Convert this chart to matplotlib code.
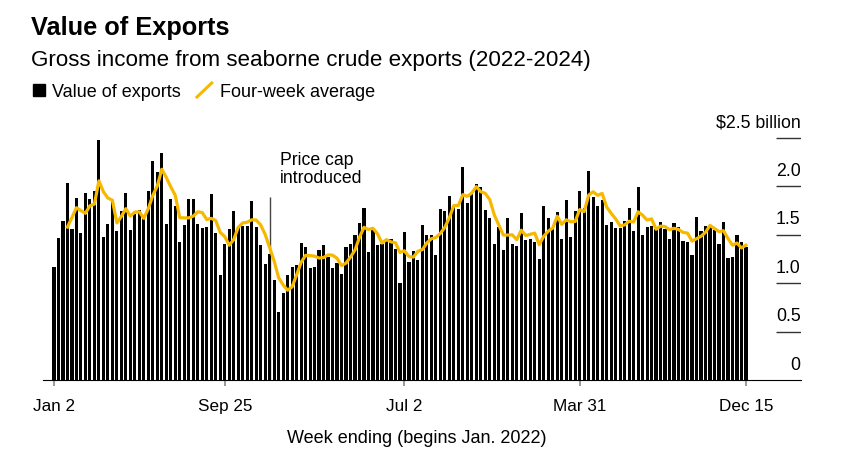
import matplotlib.pyplot as plt
import matplotlib.transforms as mtransforms
from matplotlib.patches import Rectangle
from matplotlib.lines import Line2D
import pandas as pd

plt.rcParams['font.family'] = ['Liberation Sans', 'DejaVu Sans']

# weekly gross income from seaborne crude exports, $ billion (weeks ending Sunday, from Jan 2 2022)
exports = [
    1.17, 1.47, 1.64, 2.04, 1.56, 1.88, 1.52, 1.93, 1.87, 1.95,
    2.48, 1.48, 1.61, 1.86, 1.54, 1.75, 1.93, 1.55, 1.71, 1.76,
    1.66, 1.95, 2.26, 2.15, 2.35, 1.61, 1.87, 1.80, 1.43, 1.60,
    1.87, 1.87, 1.61, 1.57, 1.58, 1.92, 1.52, 1.08, 1.41, 1.56,
    1.75, 1.59, 1.59, 1.59, 1.85, 1.58, 1.39, 1.20, 1.30, 1.03,
    0.70, 0.90, 1.08, 1.17, 1.19, 1.42, 1.37, 1.16, 1.17, 1.34,
    1.39, 1.27, 1.16, 1.21, 1.09, 1.37, 1.41, 1.50, 1.62, 1.78,
    1.32, 1.55, 1.39, 1.40, 1.46, 1.46, 1.35, 1.00, 1.53, 1.22,
    1.33, 1.24, 1.60, 1.50, 1.50, 1.29, 1.77, 1.75, 1.90, 1.79,
    1.77, 2.20, 1.83, 1.93, 2.03, 1.99, 1.76, 1.67, 1.40, 1.58,
    1.34, 1.67, 1.41, 1.38, 1.73, 1.45, 1.46, 1.43, 1.25, 1.80,
    1.67, 1.56, 1.74, 1.46, 1.86, 1.48, 1.75, 1.95, 1.78, 2.16,
    1.89, 1.80, 1.86, 1.60, 1.63, 1.57, 1.57, 1.64, 1.78, 1.54,
    1.99, 1.50, 1.58, 1.59, 1.56, 1.63, 1.56, 1.46, 1.62, 1.58,
    1.44, 1.43, 1.29, 1.68, 1.54, 1.59, 1.58, 1.55, 1.41, 1.63,
    1.26, 1.27, 1.50, 1.43, 1.37,
]
weeks = pd.date_range('2022-01-02', periods=len(exports), freq='7D')
avg4 = pd.Series(exports).rolling(4).mean()

tick_dates = pd.to_datetime(['2022-01-02', '2022-09-25', '2023-07-02', '2024-03-31', '2024-12-15'])
tick_labels = ['Jan 2', 'Sep 25', 'Jul 2', 'Mar 31', 'Dec 15']
y_levels = [0, 0.5, 1.0, 1.5, 2.0, 2.5]
y_labels = ['0', '0.5', '1.0', '1.5', '2.0', r'\$2.5 billion']
cap_date = pd.Timestamp('2022-12-04')

YELLOW = '#F7B900'

x = list(range(len(exports)))
tick_pos = [weeks.get_loc(d) for d in tick_dates]
cap_pos = weeks.get_loc(cap_date)

fig = plt.figure(figsize=(8.5, 4.59), dpi=100)
ax = fig.add_axes([0.0509, 0.1721, 0.891, 0.5483])

# price cap marker sits behind the bars
ax.vlines(cap_pos, 0, 1.89, color='#444444', linewidth=1, zorder=1)
ax.bar(x, exports, width=0.7, color='black', zorder=2)
ax.plot(x, avg4, color=YELLOW, linewidth=2.3, zorder=3, solid_joinstyle='round')

ax.set_xlim(-2.38, 166.17)
ax.set_ylim(0, 2.6)

for s in ['top', 'right', 'left']:
    ax.spines[s].set_visible(False)
ax.spines['bottom'].set_linewidth(0.8)
ax.set_yticks([])
ax.set_xticks(tick_pos)
ax.set_xticklabels(tick_labels, fontsize=12.3)
ax.tick_params(axis='x', length=4.5, width=1.2, color='#888888', pad=9)

# right-hand value labels sitting above short stubs
ytr = ax.get_yaxis_transform()
ax.hlines(y_levels[1:], 0.967, 1.0, transform=ytr, color='#333333', linewidth=1)
lab_tr = mtransforms.offset_copy(ytr, fig=fig, x=0, y=10.5, units='dots')
for v, lab in zip(y_levels, y_labels):
    ax.text(1.0, v, lab, transform=lab_tr, ha='right', va='baseline', fontsize=12.8)

ax.annotate('Price cap\nintroduced', xy=(cap_pos, 1.89), xytext=(10, 45),
            textcoords='offset pixels', ha='left', va='top', fontsize=12.7,
            linespacing=1.08)

fig.text(30.7 / 850, 1 - 35 / 459, 'Value of Exports', fontsize=18.3,
         fontweight='bold', va='baseline')
fig.text(30.7 / 850, 1 - 65.7 / 459,
         'Gross income from seaborne crude exports (2022-2024)',
         fontsize=16.1, va='baseline')

# legend
fig.add_artist(Rectangle((33.3 / 850, 1 - 96 / 459), 11.7 / 850, 11.7 / 459,
                         transform=fig.transFigure, color='black'))
fig.text(51.7 / 850, 1 - 96.7 / 459, 'Value of exports', fontsize=13, va='baseline')
fig.add_artist(Line2D([197 / 850, 211.7 / 850], [1 - 97 / 459, 1 - 83 / 459],
                      transform=fig.transFigure, color=YELLOW, linewidth=2.2))
fig.text(220 / 850, 1 - 96.7 / 459, 'Four-week average', fontsize=13, va='baseline')

fig.text(416.5 / 850, 1 - 443 / 459, 'Week ending (begins Jan. 2022)',
         fontsize=13, ha='center', va='baseline')

fig.savefig('out.png', dpi=100)
